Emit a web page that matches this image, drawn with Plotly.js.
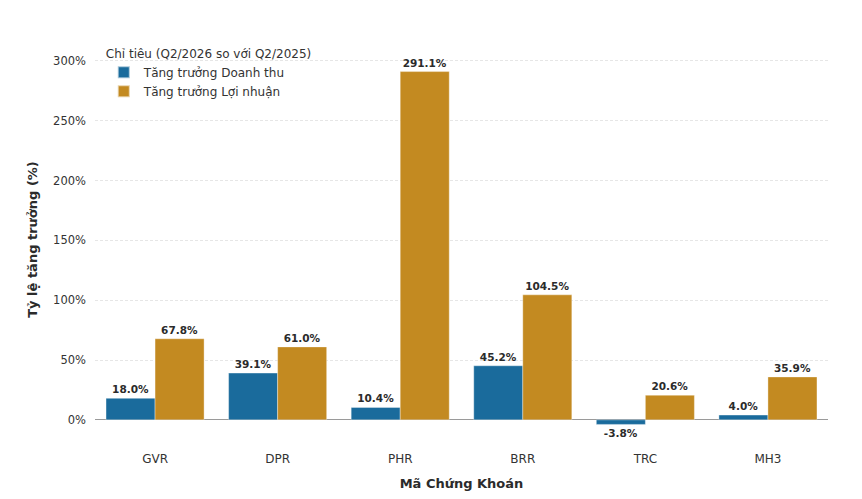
<!DOCTYPE html>
<html>
<head>
<meta charset="utf-8">
<script src="https://cdn.plot.ly/plotly-3.0.1.min.js"></script>
<style>
  html, body { margin: 0; padding: 0; background: #fff; }
  #chart { width: 862px; height: 499px; }
</style>
</head>
<body>
<div id="chart"></div>
<script>
const tickers = ['GVR', 'DPR', 'PHR', 'BRR', 'TRC', 'MH3'];
const revenueGrowth = [18.0, 39.1, 10.4, 45.2, -3.8, 4.0];
const profitGrowth = [67.8, 61.0, 291.1, 104.5, 20.6, 35.9];
const yTicks = [0, 50, 100, 150, 200, 250, 300];

const fontFamily = '"DejaVu Sans", Verdana, sans-serif';
const fmt = v => v.toFixed(1) + '%';

const traces = [
    {
        type: 'bar',
        name: 'Tăng trưởng Doanh thu',
        x: tickers,
        y: revenueGrowth,
        marker: { color: '#1a6b9c', line: { color: 'rgba(255,255,255,0.6)', width: 0.6 } },
        text: revenueGrowth.map(fmt),
        textposition: 'outside',
        cliponaxis: false,
        textfont: { family: fontFamily, size: 10.5, color: '#2b2b2b', weight: 'bold' },
        hoverinfo: 'skip'
    },
    {
        type: 'bar',
        name: 'Tăng trưởng Lợi nhuận',
        x: tickers,
        y: profitGrowth,
        marker: { color: '#c38a21', line: { color: 'rgba(255,255,255,0.6)', width: 0.6 } },
        text: profitGrowth.map(fmt),
        textposition: 'outside',
        cliponaxis: false,
        textfont: { family: fontFamily, size: 10.5, color: '#2b2b2b', weight: 'bold' },
        hoverinfo: 'skip'
    }
];

const layout = {
    width: 862,
    height: 499,
    margin: { l: 95, r: 34, t: 37, b: 57 },
    paper_bgcolor: '#fff',
    plot_bgcolor: '#fff',
    font: { family: fontFamily, size: 12, color: '#333' },
    barmode: 'group',
    bargap: 0.2,
    bargroupgap: 0,
    xaxis: {
        range: [-0.49, 5.49],
        showgrid: false,
        showline: false,
        ticks: '',
        ticklabelstandoff: 8,
        tickfont: { size: 12, color: '#333' },
        title: { text: 'Mã Chứng Khoán', standoff: 13, font: { size: 13, weight: 'bold', color: '#2b2b2b' } }
    },
    yaxis: {
        range: [-18.5, 320],
        tickvals: yTicks,
        ticktext: yTicks.map(v => v + '%'),
        showgrid: true,
        gridcolor: '#e0e0e0',
        griddash: '3px,2px',
        gridwidth: 0.8,
        zeroline: true,
        zerolinecolor: '#9a9a9a',
        zerolinewidth: 1,
        showline: false,
        ticks: '',
        ticklabelstandoff: 8,
        tickfont: { size: 11.5, color: '#333' },
        title: { text: 'Tỷ lệ tăng trưởng (%)', standoff: 12, font: { size: 13, weight: 'bold', color: '#2b2b2b' } }
    },
    legend: {
        x: 0.012,
        y: 0.987,
        xanchor: 'left',
        yanchor: 'top',
        bgcolor: 'rgba(255,255,255,0)',
        tracegroupgap: 0,
        itemsizing: 'constant',
        font: { size: 12, color: '#333' },
        title: { text: 'Chỉ tiêu (Q2/2026 so với Q2/2025)', side: 'top', font: { size: 12, color: '#333' } }
    },
    showlegend: true
};

Plotly.newPlot('chart', traces, layout, { displayModeBar: false, staticPlot: true });
</script>
</body>
</html>
